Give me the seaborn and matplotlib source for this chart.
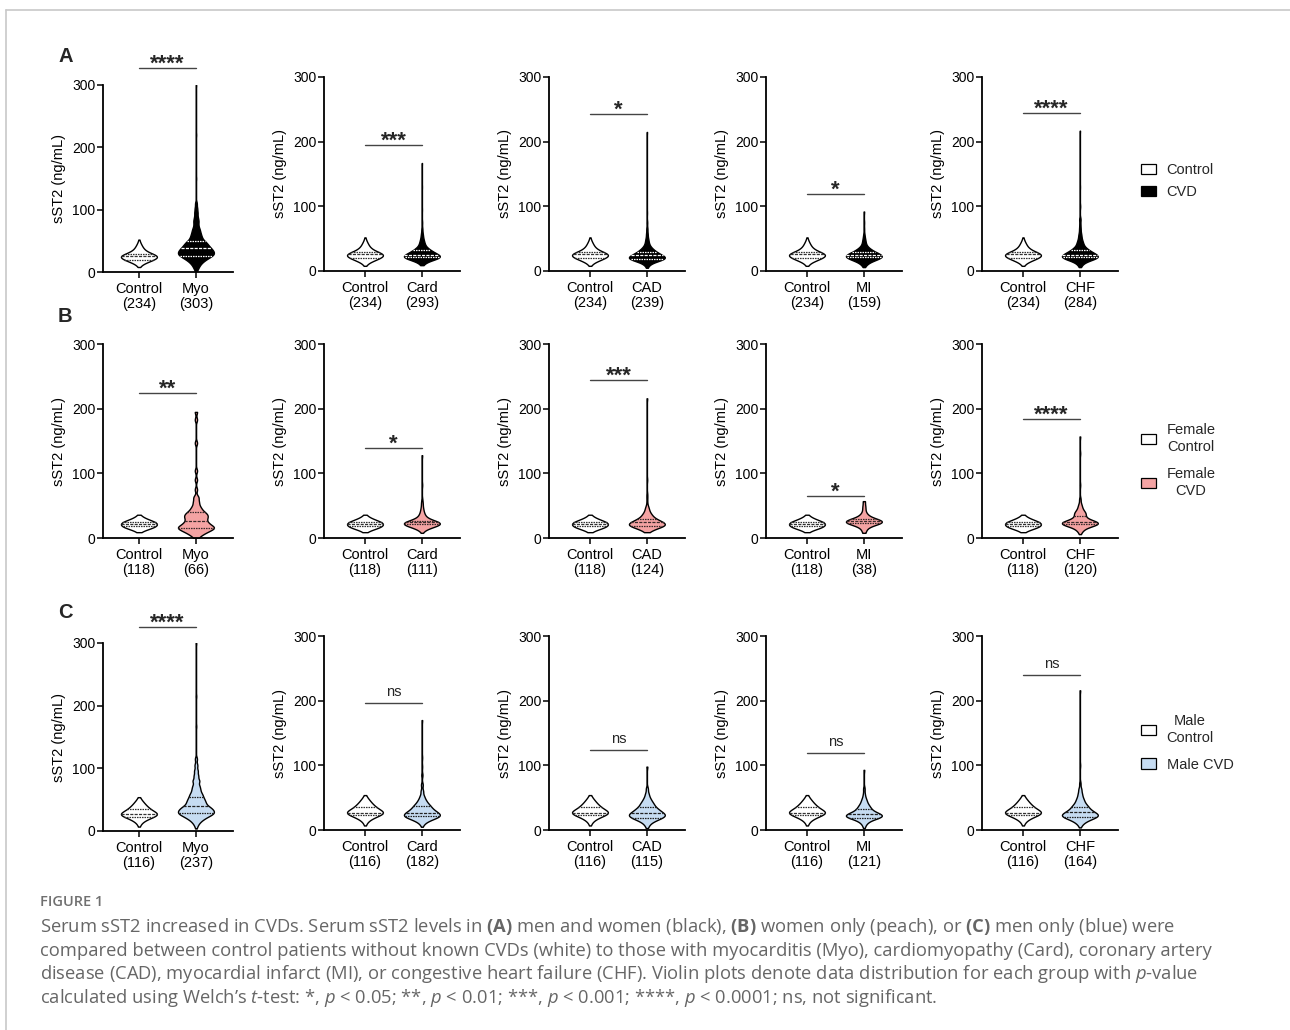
import numpy as np
import pandas as pd
import matplotlib
matplotlib.use("Agg")
import matplotlib.pyplot as plt
import seaborn as sns
from matplotlib.patches import Patch
from matplotlib.lines import Line2D

# ---------------- DATA ----------------
# Each group is a frequency table: sST2 values (ng/mL) and how many patients
# sit near each value; counts sum to n.
DISEASES = ["Myo", "Card", "CAD", "MI", "CHF"]

# Row A: men and women
N_CTRL_ALL = 234
N_ALL = [303, 293, 239, 159, 284]
SIG_ALL = ["****", "***", "*", "*", "****"]
CTRL_ALL_V = [8, 11, 14, 17, 20, 23, 26, 29, 32, 35, 38, 41, 44, 47, 50, 52]
CTRL_ALL_C = [2, 4, 10, 22, 30, 40, 42, 28, 18, 12, 9, 7, 5, 3, 1, 1]
MYO_ALL_V = [2, 6, 10, 14, 18, 22, 26, 30, 34, 38, 42, 46, 50, 55, 60, 65, 70, 76, 82, 88, 95,
             102, 110, 150, 220, 300]
MYO_ALL_C = [2, 4, 6, 9, 14, 20, 29, 32, 30, 26, 22, 19, 16, 13, 11, 9, 8, 6, 7, 5, 5, 4, 3,
             1, 1, 1]
CARD_ALL_V = [9, 12, 15, 18, 21, 24, 27, 30, 33, 36, 40, 44, 48, 53, 58, 65, 75, 95, 130, 167]
CARD_ALL_C = [3, 6, 14, 32, 52, 48, 35, 26, 20, 14, 11, 8, 7, 5, 4, 3, 2, 1, 1, 1]
CAD_ALL_V = [5, 9, 12, 15, 18, 21, 24, 27, 30, 33, 36, 40, 45, 50, 57, 65, 75, 90, 215]
CAD_ALL_C = [2, 4, 8, 18, 38, 42, 32, 24, 18, 13, 10, 8, 6, 5, 4, 3, 2, 1, 1]
MI_ALL_V = [6, 9, 12, 15, 18, 21, 24, 27, 30, 33, 36, 40, 45, 50, 56, 65, 75, 92]
MI_ALL_C = [1, 3, 5, 10, 18, 26, 28, 20, 14, 10, 7, 5, 4, 3, 2, 1, 1, 1]
CHF_ALL_V = [6, 9, 12, 15, 18, 21, 24, 27, 30, 33, 36, 40, 44, 48, 53, 58, 65, 72, 80, 100,
             130, 217]
CHF_ALL_C = [2, 4, 7, 14, 30, 44, 42, 32, 24, 18, 14, 11, 9, 7, 6, 5, 4, 3, 4, 2, 1, 1]

# Row B: women only
N_CTRL_F = 118
N_F = [66, 111, 124, 38, 120]
SIG_F = ["**", "*", "***", "*", "****"]
CTRL_F_V = [9, 12, 15, 18, 21, 24, 27, 30, 33, 36]
CTRL_F_C = [1, 5, 16, 22, 22, 24, 15, 8, 4, 1]
MYO_F_V = [0, 4, 8, 12, 16, 20, 24, 28, 32, 36, 40, 45, 50, 56, 63, 75, 90, 104, 147, 183, 195]
MYO_F_C = [1, 2, 4, 6, 9, 6, 5, 4, 5, 5, 4, 3, 2, 2, 2, 1, 1, 1, 1, 1, 1]
CARD_F_V = [8, 12, 15, 18, 21, 24, 27, 30, 34, 38, 43, 48, 54, 60, 82, 128]
CARD_F_C = [1, 3, 7, 15, 22, 24, 12, 8, 5, 4, 3, 2, 2, 1, 1, 1]
CAD_F_V = [9, 12, 15, 18, 21, 24, 27, 30, 34, 38, 43, 48, 55, 62, 68, 90, 216]
CAD_F_C = [2, 5, 10, 18, 22, 18, 13, 10, 8, 6, 4, 3, 1, 1, 1, 1, 1]
MI_F_V = [8, 12, 16, 20, 23, 26, 29, 32, 36, 40, 45, 50, 57]
MI_F_C = [1, 1, 2, 4, 7, 9, 5, 3, 2, 1, 1, 1, 1]
CHF_F_V = [6, 10, 14, 18, 21, 24, 27, 30, 34, 38, 42, 47, 52, 60, 82, 131, 157]
CHF_F_C = [1, 3, 6, 12, 20, 24, 12, 8, 7, 9, 6, 4, 3, 2, 1, 1, 1]

# Row C: men only
N_CTRL_M = 116
N_M = [237, 182, 115, 121, 164]
SIG_M = ["****", "ns", "ns", "ns", "ns"]
CTRL_M_V = [7, 11, 15, 19, 23, 27, 31, 35, 39, 43, 47, 51, 54]
CTRL_M_C = [1, 2, 5, 10, 18, 24, 18, 13, 10, 7, 5, 2, 1]
MYO_M_V = [4, 8, 12, 16, 20, 24, 28, 32, 36, 40, 45, 50, 55, 60, 66, 72, 80, 88, 96, 105, 115,
           167, 215, 300]
MYO_M_C = [1, 2, 4, 7, 12, 18, 26, 25, 22, 18, 17, 15, 12, 11, 9, 8, 9, 6, 5, 4, 3, 1, 1, 1]
CARD_M_V = [5, 9, 13, 17, 21, 25, 29, 33, 37, 41, 46, 52, 60, 70, 85, 98, 112, 170]
CARD_M_C = [1, 3, 8, 18, 31, 30, 22, 17, 14, 11, 9, 6, 4, 3, 2, 1, 1, 1]
CAD_M_V = [3, 7, 11, 15, 19, 23, 27, 31, 35, 40, 45, 50, 56, 64, 98]
CAD_M_C = [1, 2, 4, 9, 16, 20, 16, 12, 10, 9, 6, 4, 3, 2, 1]
MI_M_V = [3, 7, 11, 15, 19, 22, 25, 28, 32, 36, 40, 45, 50, 56, 64, 93]
MI_M_C = [1, 2, 4, 9, 18, 22, 16, 12, 10, 8, 6, 5, 3, 2, 2, 1]
CHF_M_V = [4, 8, 12, 16, 20, 24, 28, 32, 36, 40, 45, 50, 56, 63, 72, 100, 216]
CHF_M_C = [1, 3, 7, 14, 26, 29, 20, 15, 12, 10, 8, 6, 5, 4, 2, 1, 1]

LEGEND_LABELS = {
    "A": ["Control", "CVD"],
    "B": ["Female\nControl", "Female\nCVD"],
    "C": ["Male\nControl", "Male CVD"],
}

ROWS = {
    "A": dict(ctrl=(CTRL_ALL_V, CTRL_ALL_C), n_ctrl=N_CTRL_ALL,
              groups=[(MYO_ALL_V, MYO_ALL_C), (CARD_ALL_V, CARD_ALL_C), (CAD_ALL_V, CAD_ALL_C),
                      (MI_ALL_V, MI_ALL_C), (CHF_ALL_V, CHF_ALL_C)],
              n=N_ALL, sig=SIG_ALL),
    "B": dict(ctrl=(CTRL_F_V, CTRL_F_C), n_ctrl=N_CTRL_F,
              groups=[(MYO_F_V, MYO_F_C), (CARD_F_V, CARD_F_C), (CAD_F_V, CAD_F_C),
                      (MI_F_V, MI_F_C), (CHF_F_V, CHF_F_C)],
              n=N_F, sig=SIG_F),
    "C": dict(ctrl=(CTRL_M_V, CTRL_M_C), n_ctrl=N_CTRL_M,
              groups=[(MYO_M_V, MYO_M_C), (CARD_M_V, CARD_M_C), (CAD_M_V, CAD_M_C),
                      (MI_M_V, MI_M_C), (CHF_M_V, CHF_M_C)],
              n=N_M, sig=SIG_M),
}

# ---------------- STYLE / LAYOUT ----------------
sns.set_theme(style="ticks")
plt.rcParams['font.family'] = ['Liberation Sans', 'DejaVu Sans']
plt.rcParams['mathtext.fontset'] = 'custom'
plt.rcParams['mathtext.rm'] = 'Open Sans'
plt.rcParams['mathtext.bf'] = 'Open Sans:bold'
plt.rcParams['mathtext.it'] = 'Open Sans:italic'

ROW_COLORS = {"A": "#000000", "B": "#F4A3A3", "C": "#C6DCF2"}
INNER_COLORS = {"A": "white", "B": "#3a2a2a", "C": "#222222"}
BAR_LEVELS = {"A": [327, 195, 243, 119, 244],
              "B": [224, 139, 244, 65, 184],
              "C": [325, 196, 124, 119, 240]}
TOPS = {"A": [85, 77, 77, 77, 77], "B": [344] * 5, "C": [643, 636, 636, 636, 636]}
BOTTOMS = {"A": [272, 271, 271, 271, 271], "B": [538] * 5, "C": [831, 830, 830, 830, 830]}
LEFTS = [103, 324, 549, 766, 982]
WIDTHS = [130, 136, 136, 136, 136]
XLIMS = [(-0.63, 1.65)] + [(-0.72, 1.67)] * 4
LETTER_POS = {"A": (66, 56), "B": (65, 316), "C": (65, 613)}
LEGEND_POS = {"A": (1141, 163), "B": (1141, 423), "C": (1141, 714)}
LEGEND_SPACING = {"A": 0.55, "B": 0.85, "C": 0.85}

W, H = 1290, 1030
fig = plt.figure(figsize=(W / 100, H / 100), dpi=100)
fig.patch.set_facecolor("white")

BW = 3.5  # absolute KDE bandwidth in ng/mL


def rect(left, top, width, bottom):
    return [left / W, 1 - bottom / H, width / W, (bottom - top) / H]


def draw_violin(ax, table, label, order, face, inner_color):
    values = np.repeat(table[0], table[1])
    df = pd.DataFrame({"group": [label] * len(values), "value": values})
    sd = float(np.std(values, ddof=1))
    sns.violinplot(data=df, x="group", y="value", order=order, color=face, saturation=1,
                   inner="quart", cut=0, density_norm="width", width=0.63, gridsize=400,
                   bw_method=BW / sd, linewidth=1.0, linecolor="black",
                   inner_kws=dict(color=inner_color, linewidth=0.9), ax=ax)


for row, spec in ROWS.items():
    for i, dis in enumerate(DISEASES):
        ax = fig.add_axes(rect(LEFTS[i], TOPS[row][i], WIDTHS[i], BOTTOMS[row][i]))
        order = ["Control", dis]
        draw_violin(ax, spec["ctrl"], "Control", order, "white", "#333333")
        draw_violin(ax, spec["groups"][i], dis, order, ROW_COLORS[row], INNER_COLORS[row])
        ax.set_xlim(*XLIMS[i])
        ax.set_ylim(0, 300)
        ax.set_yticks([0, 100, 200, 300])
        ax.set_xticks([0, 1], labels=[f"Control\n({spec['n_ctrl']})", f"{dis}\n({spec['n'][i]})"])
        for t in ax.get_xticklabels():
            t.set_linespacing(1.05)
        ax.set_xlabel("")
        ax.set_ylabel("sST2 (ng/mL)", fontsize=10.5, labelpad=4, color="black")
        ax.tick_params(axis="both", direction="out", length=4, width=1.1, color="black",
                       labelcolor="black")
        ax.tick_params(axis="y", labelsize=10, pad=1.5)
        ax.tick_params(axis="x", labelsize=10.5, pad=3.5)
        for s in ["top", "right"]:
            ax.spines[s].set_visible(False)
        for s in ["left", "bottom"]:
            ax.spines[s].set_linewidth(1.3)
            ax.spines[s].set_color("black")
        ax.set_facecolor("none")
        # significance bar
        yb = BAR_LEVELS[row][i]
        ax.plot([0, 1], [yb, yb], color="#444444", lw=1.0, clip_on=False)
        sig = spec["sig"][i]
        if sig == "ns":
            ax.annotate(sig, xy=(0.5, yb), xytext=(0, 5), textcoords="offset points",
                        ha="center", va="baseline", fontsize=10.5, annotation_clip=False)
        else:
            ax.annotate(sig, xy=(0.5, yb), xytext=(0, -1), textcoords="offset points",
                        ha="center", va="baseline", fontsize=16, fontweight="bold",
                        annotation_clip=False)

    # panel letter
    lx, ly = LETTER_POS[row]
    fig.text(lx / W, 1 - ly / H, row, fontsize=14.5, fontweight="bold", ha="center",
             va="center")
    # legend
    handles = [Patch(facecolor="white", edgecolor="black", linewidth=0.9),
               Patch(facecolor=ROW_COLORS[row], edgecolor="black", linewidth=0.9)]
    gx, gy = LEGEND_POS[row]
    leg = fig.legend(handles, LEGEND_LABELS[row], loc="upper left",
                     bbox_to_anchor=(gx / W, 1 - gy / H), frameon=False, fontsize=10.5,
                     handlelength=1.0, handleheight=0.7, handletextpad=0.75,
                     labelspacing=LEGEND_SPACING[row], borderpad=0, borderaxespad=0)
    for t in leg.get_texts():
        t.set_multialignment("center")
        t.set_linespacing(1.3)

# frame lines
fig.add_artist(Line2D([6 / W, 1], [1 - 10 / H, 1 - 10 / H], transform=fig.transFigure,
                      color="#c8c8c8", lw=1.2))
fig.add_artist(Line2D([6 / W, 6 / W], [0, 1 - 10 / H], transform=fig.transFigure,
                      color="#c8c8c8", lw=1.2))

# caption
fig.text(40 / W, 1 - 906 / H, "FIGURE 1", fontsize=10.5, color="#707070",
         family=["Open Sans", "DejaVu Sans"], fontweight="semibold", va="baseline")
CAPTION = [
    r"Serum sST2 increased in CVDs. Serum sST2 levels in $\mathbf{(A)}$ men and women (black), "
    r"$\mathbf{(B)}$ women only (peach), or $\mathbf{(C)}$ men only (blue) were",
    "compared between control patients without known CVDs (white) to those with myocarditis "
    "(Myo), cardiomyopathy (Card), coronary artery",
    r"disease (CAD), myocardial infarct (MI), or congestive heart failure (CHF). Violin plots "
    r"denote data distribution for each group with $p$-value",
    r"calculated using Welch’s $t$-test: *, $p$ < 0.05; **, $p$ < 0.01; ***, $p$ < 0.001; "
    r"****, $p$ < 0.0001; ns, not significant.",
]
for k, line in enumerate(CAPTION):
    fig.text(40 / W, 1 - (932 + 23.7 * k) / H, line, fontsize=13.2, color="#666666",
             family=["Open Sans", "DejaVu Sans"], va="baseline")

fig.savefig("out.png", dpi=100, facecolor="white")
